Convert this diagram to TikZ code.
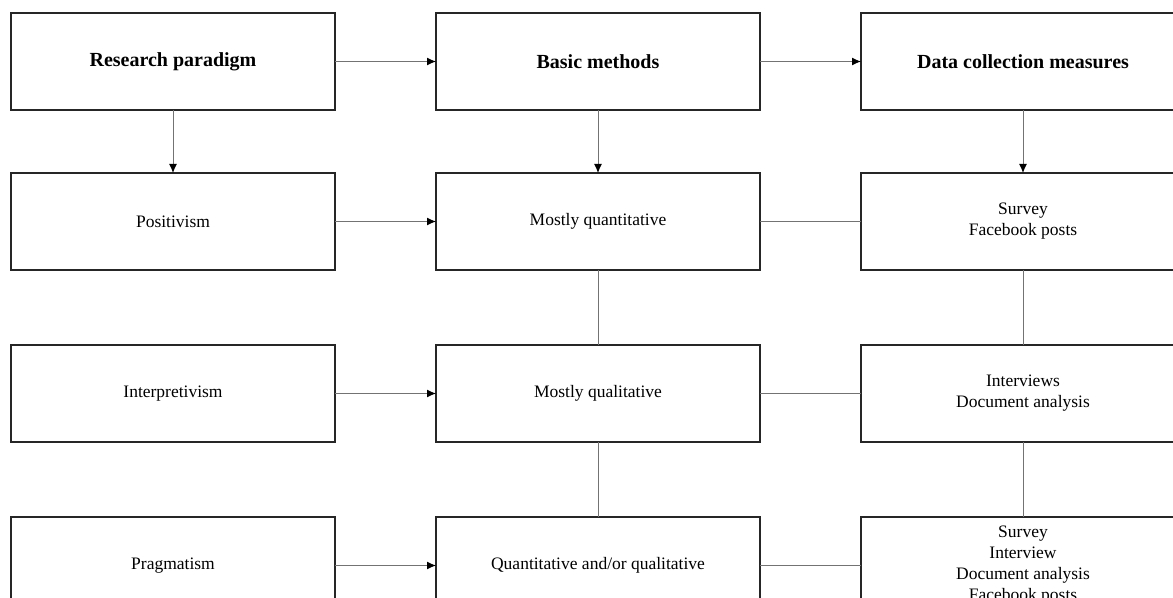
\documentclass[tikz,border=0pt]{standalone}
\usepackage{fontspec}
\setmainfont{Liberation Serif}
\usetikzlibrary{positioning}
\usetikzlibrary{arrows.meta}
\tikzstyle{box} = [
	draw=black!85,
	line width=0.8pt,
	minimum width=162pt,
	minimum height=48.5pt,
	inner sep=0pt,
	outer sep=0pt,
	align=center,
	font=\fontsize{8.75}{10.5}\selectfont
]
\tikzstyle{head} = [
	box,
	font=\fontsize{10}{12}\selectfont\bfseries
]
\tikzstyle{link} = [
	draw=black!55,
	line width=0.5pt
]
\tikzstyle{arrow} = [
	link,
	-{Latex[color=black, length=4.5pt, width=4pt]}
]

\begin{document}
\begin{tikzpicture}[x=0.5pt, y=-0.5pt, node distance=31.5pt and 50.5pt]
	\useasboundingbox (0,0) rectangle (1173,598);
	\clip (0,0) rectangle (1173,598);

	%
	% Headers
	\node[head, anchor=north west] at (11,13) (Paradigm) {Research paradigm};
	\node[head, right=of Paradigm] (Methods) {Basic methods};
	\node[head, right=of Methods] (Measures) {Data collection measures};

	%
	% Positivism row
	\node[box, below=of Paradigm] (Positivism) {Positivism};
	\node[box, below=of Methods] (Quant) {Mostly quantitative};
	\node[box, below=of Measures] (QuantData) {Survey\\Facebook posts};

	%
	% Interpretivism row
	\node[box, below=37.5pt of Positivism] (Interpretivism) {Interpretivism};
	\node[box, below=37.5pt of Quant] (Qual) {Mostly qualitative};
	\node[box, below=37.5pt of QuantData] (QualData) {Interviews\\Document analysis};

	%
	% Pragmatism row
	\node[box, below=37.5pt of Interpretivism] (Pragmatism) {Pragmatism};
	\node[box, below=37.5pt of Qual] (Mixed) {Quantitative and/or qualitative};
	\node[box, below=37.5pt of QualData] (MixedData) {Survey\\Interview\\Document analysis\\Facebook posts};

	%
	% Arrows

	% headers
	\draw[arrow] (Paradigm.east) -- (Methods.west);
	\draw[arrow] (Methods.east) -- (Measures.west);
	\draw[arrow] (Paradigm.south) -- (Positivism.north);
	\draw[arrow] (Methods.south) -- (Quant.north);
	\draw[arrow] (Measures.south) -- (QuantData.north);

	% paradigms to methods
	\draw[arrow] (Positivism.east) -- (Quant.west);
	\draw[arrow] (Interpretivism.east) -- (Qual.west);
	\draw[arrow] (Pragmatism.east) -- (Mixed.west);

	% methods to measures
	\draw[link] (Quant.east) -- (QuantData.west);
	\draw[link] (Qual.east) -- (QualData.west);
	\draw[link] (Mixed.east) -- (MixedData.west);

	% vertical links
	\draw[link] (Quant.south) -- (Qual.north);
	\draw[link] (Qual.south) -- (Mixed.north);
	\draw[link] (QuantData.south) -- (QualData.north);
	\draw[link] (QualData.south) -- (MixedData.north);

\end{tikzpicture}
\end{document}
